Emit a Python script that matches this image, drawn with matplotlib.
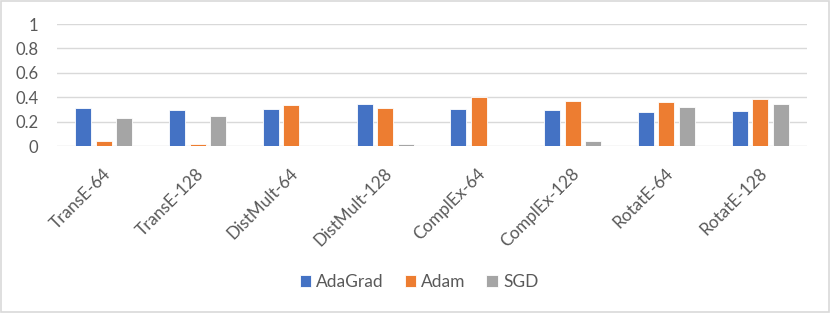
import numpy as np
import matplotlib
matplotlib.use("Agg")
import matplotlib.pyplot as plt
from matplotlib.transforms import ScaledTranslation
from matplotlib.patches import Rectangle

# Données
models = ["TransE-64", "TransE-128", "DistMult-64", "DistMult-128",
          "ComplEx-64", "ComplEx-128", "RotatE-64", "RotatE-128"]
adagrad = [0.311, 0.298, 0.306, 0.344, 0.303, 0.295, 0.276, 0.290]
adam = [0.043, 0.016, 0.336, 0.311, 0.402, 0.366, 0.363, 0.385]
sgd = [0.232, 0.248, 0.003, 0.019, 0.0, 0.038, 0.320, 0.344]

series = [("AdaGrad", adagrad, "#4472C4"),
          ("Adam", adam, "#ED7D31"),
          ("SGD", sgd, "#A5A5A5")]

plt.rcParams["font.family"] = ["Lato", "DejaVu Sans"]
txt = "#595959"

fig = plt.figure(figsize=(8.31, 3.13), dpi=100)
ax = fig.add_axes([57 / 831, 1 - 146 / 313, 750 / 831, 122 / 313])

x = np.arange(len(models))
w = 0.17
step = 0.219
for i, (name, vals, col) in enumerate(series):
    ax.bar(x + (i - 1) * step, vals, w, color=col, label=name,
           edgecolor="white", linewidth=0.6, zorder=3)

ax.set_xlim(-0.5, len(models) - 0.5)
ax.set_ylim(0, 1)
ax.set_yticks([0, 0.2, 0.4, 0.6, 0.8, 1.0])
ax.set_yticklabels(["0", "0.2", "0.4", "0.6", "0.8", "1"])
ax.grid(axis="y", color="#D9D9D9", linewidth=1, zorder=0)
ax.set_axisbelow(True)
for s in ax.spines.values():
    s.set_visible(False)
ax.tick_params(axis="both", length=0, colors=txt, labelsize=12)
ax.tick_params(axis="y", pad=13.5)

ax.set_xticks(x)
ax.set_xticklabels(models, rotation=45, ha="right", va="center",
                   rotation_mode="anchor", fontsize=12.3)
ax.tick_params(axis="x", pad=18)
offset = ScaledTranslation(4 / 100, 0, fig.dpi_scale_trans)
for lab in ax.get_xticklabels():
    lab.set_transform(lab.get_transform() + offset)

leg = fig.legend(loc="center", bbox_to_anchor=(419 / 831, 1 - 282 / 313),
                 ncol=3, frameon=False, fontsize=12.5, handlelength=0.65,
                 handleheight=0.65, handletextpad=0.3, columnspacing=1.2)
for t in leg.get_texts():
    t.set_color(txt)

# Bordure
fig.patches.append(Rectangle((0.001, 0.002), 0.997, 0.995, transform=fig.transFigure,
                             fill=False, edgecolor="#D9D9D9", linewidth=1.2))

fig.savefig("out.png", dpi=100, facecolor="white")
